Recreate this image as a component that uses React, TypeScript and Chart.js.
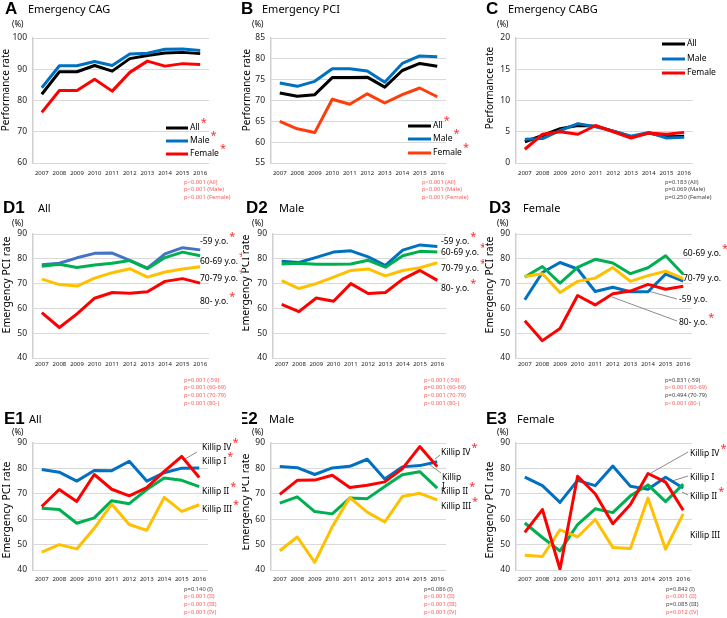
import React, { useEffect, useRef } from 'react';
import { Chart, registerables } from 'chart.js';
Chart.register(...registerables);

const FONT = '"Noto Sans", "DejaVu Sans", sans-serif';
const W = 727;
const H = 618;

const YEARS = ['2007', '2008', '2009', '2010', '2011', '2012', '2013', '2014', '2015', '2016'];

// Y tick labels
const ticksCAG = [60, 70, 80, 90, 100];
const ticksPCI = [55, 60, 65, 70, 75, 80, 85];
const ticksCABG = [0, 5, 10, 15, 20];
const ticksRate = [40, 50, 60, 70, 80, 90];

// A Emergency CAG
const cagAll = [82.0, 89.2, 89.2, 91.2, 89.4, 93.4, 94.4, 95.2, 95.4, 95.0];
const cagMale = [84.1, 91.1, 91.1, 92.5, 91.2, 94.9, 95.1, 96.4, 96.5, 96.0];
const cagFemale = [76.2, 83.2, 83.2, 86.8, 83.0, 89.0, 92.6, 91.0, 91.8, 91.5];
// B Emergency PCI
const pciAll = [71.8, 71.0, 71.4, 75.5, 75.5, 75.6, 73.2, 77.2, 78.9, 78.2];
const pciMale = [74.2, 73.4, 74.6, 77.6, 77.6, 77.1, 74.4, 78.9, 80.7, 80.5];
const pciFemale = [65.0, 63.2, 62.3, 70.3, 69.1, 71.6, 69.4, 71.4, 73.0, 70.9];
// C Emergency CABG
const cabgAll = [3.4, 4.4, 5.5, 6.0, 5.9, 5.1, 4.2, 4.8, 4.2, 4.3];
const cabgMale = [3.8, 3.9, 5.2, 6.3, 5.8, 5.1, 4.3, 4.9, 4.0, 4.1];
const cabgFemale = [2.2, 4.6, 5.0, 4.6, 6.0, 5.0, 4.0, 4.8, 4.6, 4.9];
// D1 All by age
const d1Age59 = [77.6, 78.2, 80.4, 82.2, 82.3, 79.4, 76.2, 82.0, 84.5, 83.6];
const d1Age60 = [77.0, 77.8, 76.5, 77.5, 78.2, 79.3, 76.0, 80.5, 82.7, 81.2];
const d1Age70 = [71.8, 69.6, 69.0, 72.2, 74.4, 76.0, 72.6, 74.7, 75.9, 76.8];
const d1Age80 = [58.3, 52.3, 57.8, 64.1, 66.4, 66.1, 66.7, 70.9, 72.0, 70.2];
// D2 Male by age
const d2Age59 = [79.0, 78.5, 80.6, 82.7, 83.2, 80.8, 77.3, 83.5, 85.6, 85.0];
const d2Age60 = [77.9, 78.2, 77.8, 77.8, 77.9, 79.4, 76.6, 81.2, 83.0, 82.7];
const d2Age70 = [71.2, 68.0, 70.0, 72.6, 75.3, 75.9, 73.1, 75.3, 76.4, 78.4];
const d2Age80 = [61.6, 58.7, 64.2, 62.9, 70.0, 66.0, 66.4, 71.8, 75.3, 71.3];
// D3 Female by age
const d3Age59 = [63.5, 74.5, 78.5, 75.9, 66.8, 68.5, 66.7, 66.7, 73.8, 71.0];
const d3Age60 = [72.6, 76.9, 70.2, 76.5, 79.8, 78.3, 74.0, 76.4, 81.2, 73.8];
const d3Age70 = [72.9, 74.0, 66.4, 70.9, 72.2, 76.5, 70.9, 73.2, 75.0, 72.0];
const d3Age80 = [55.0, 47.0, 51.9, 65.2, 61.4, 65.9, 67.0, 69.7, 67.7, 68.9];
// E1 All by Killip
const e1K1 = [79.6, 78.5, 75.0, 79.2, 79.1, 82.8, 75.0, 78.3, 80.1, 80.2];
const e1K2 = [64.3, 63.8, 58.4, 60.5, 67.3, 66.1, 71.7, 76.2, 75.3, 72.8];
const e1K3 = [47.0, 50.0, 48.3, 56.4, 65.9, 57.9, 55.6, 68.6, 63.1, 65.7];
const e1K4 = [65.0, 71.7, 67.0, 77.6, 71.8, 69.2, 72.4, 78.8, 84.7, 76.4];
// E2 Male by Killip
const e2K1 = [80.7, 80.3, 77.6, 80.2, 80.8, 83.6, 75.8, 80.6, 81.1, 82.6];
const e2K2 = [66.3, 68.8, 63.0, 62.1, 68.3, 68.1, 72.9, 77.5, 78.7, 72.2];
const e2K3 = [47.6, 53.0, 43.0, 57.0, 68.5, 62.8, 58.9, 68.9, 70.2, 67.6];
const e2K4 = [69.8, 75.3, 75.4, 77.3, 72.5, 73.4, 74.7, 79.8, 88.6, 80.7];
// E3 Female by Killip
const e3K1 = [76.6, 73.2, 66.6, 75.3, 73.2, 80.9, 73.0, 71.8, 76.5, 72.3];
const e3K2 = [58.5, 52.8, 47.5, 57.9, 64.1, 62.6, 69.2, 73.5, 66.9, 73.8];
const e3K3 = [45.8, 45.3, 55.8, 53.0, 59.9, 48.9, 48.5, 68.3, 48.2, 62.1];
const e3K4 = [54.8, 63.8, 40.3, 76.9, 70.0, 58.2, 65.8, 78.0, 74.6, 63.5];

const BLACK = '#000000';
const BLUE = '#0070C0';
const LBLUE = '#4472C4';
const RED = '#FF0000';
const ORANGE = '#FF3D0A';
const GREEN = '#00B050';
const GOLD = '#FFC000';
const PRED = '#FF5A5A';
const PGREY = '#444444';

interface Series { label: string; data: number[]; color: string }
interface TextItem { text: string; x: number; y: number; star?: boolean }
interface LegendDef { x1: number; x2: number; tx: number; items: { label: string; color: string; y: number; star: boolean }[] }
interface PanelDef {
  clip: [number, number];
  plot: [number, number, number, number];
  ticks: number[];
  xPad: number;
  series: Series[];
  letter: TextItem;
  title: TextItem;
  pct: TextItem;
  yTitle: TextItem;
  legend?: LegendDef;
  labels: TextItem[];
  leaders: number[][];
  pvals: { x: number; y: number; items: [string, boolean][] };
}

const COLS: [number, number][] = [[0, 242], [242, 484], [484, 727]];

const panels: PanelDef[] = [
  {
    clip: COLS[0], plot: [33, 38, 209, 163], ticks: ticksCAG, xPad: 7,
    series: [
      { label: 'All', data: cagAll, color: BLACK },
      { label: 'Male', data: cagMale, color: BLUE },
      { label: 'Female', data: cagFemale, color: RED },
    ],
    letter: { text: 'A', x: 5, y: 14 }, title: { text: 'Emergency CAG', x: 28, y: 13 },
    pct: { text: '(%)', x: 12, y: 25 }, yTitle: { text: 'Performance rate', x: 6, y: 90 },
    legend: {
      x1: 166, x2: 188, tx: 190, items: [
        { label: 'All', color: BLACK, y: 128, star: true },
        { label: 'Male', color: BLUE, y: 141, star: true },
        { label: 'Female', color: RED, y: 154, star: true },
      ],
    },
    labels: [], leaders: [],
    pvals: { x: 184, y: 182, items: [['p<0.001 (All)', true], ['p<0.001 (Male)', true], ['p<0.001 (Female)', true]] },
  },
  {
    clip: COLS[1], plot: [271, 38, 446, 163], ticks: ticksPCI, xPad: 7,
    series: [
      { label: 'All', data: pciAll, color: BLACK },
      { label: 'Male', data: pciMale, color: BLUE },
      { label: 'Female', data: pciFemale, color: ORANGE },
    ],
    letter: { text: 'B', x: 241, y: 14 }, title: { text: 'Emergency PCI', x: 262, y: 13 },
    pct: { text: '(%)', x: 252, y: 25 }, yTitle: { text: 'Performance rate', x: 247, y: 90 },
    legend: {
      x1: 408, x2: 431, tx: 433, items: [
        { label: 'All', color: BLACK, y: 126, star: true },
        { label: 'Male', color: BLUE, y: 139, star: true },
        { label: 'Female', color: ORANGE, y: 153, star: true },
      ],
    },
    labels: [], leaders: [],
    pvals: { x: 422, y: 182, items: [['p<0.001 (All)', true], ['p<0.001 (Male)', true], ['p<0.001 (Female)', true]] },
  },
  {
    clip: COLS[2], plot: [516, 38, 693, 163], ticks: ticksCABG, xPad: 7,
    series: [
      { label: 'All', data: cabgAll, color: BLACK },
      { label: 'Male', data: cabgMale, color: BLUE },
      { label: 'Female', data: cabgFemale, color: RED },
    ],
    letter: { text: 'C', x: 486, y: 14 }, title: { text: 'Emergency CABG', x: 508, y: 13 },
    pct: { text: '(%)', x: 497, y: 25 }, yTitle: { text: 'Performance rate', x: 490, y: 88 },
    legend: {
      x1: 662, x2: 685, tx: 687, items: [
        { label: 'All', color: BLACK, y: 44, star: false },
        { label: 'Male', color: BLUE, y: 59, star: false },
        { label: 'Female', color: RED, y: 73, star: false },
      ],
    },
    labels: [], leaders: [],
    pvals: { x: 665, y: 182, items: [['p=0.183 (All)', false], ['p=0.069 (Male)', false], ['p=0.250 (Female)', false]] },
  },
  {
    clip: COLS[0], plot: [33, 234, 209, 358], ticks: ticksRate, xPad: 3,
    series: [
      { label: '-59 y.o.', data: d1Age59, color: LBLUE },
      { label: '60-69 y.o.', data: d1Age60, color: GREEN },
      { label: '70-79 y.o.', data: d1Age70, color: GOLD },
      { label: '80- y.o.', data: d1Age80, color: RED },
    ],
    letter: { text: 'D1', x: 3, y: 213 }, title: { text: 'All', x: 38, y: 212 },
    pct: { text: '(%)', x: 12, y: 224 }, yTitle: { text: 'Emergency PCI rate', x: 7, y: 285 },
    labels: [
      { text: '-59 y.o.', x: 200, y: 242, star: true },
      { text: '60-69 y.o.', x: 200, y: 262, star: true },
      { text: '70-79 y.o.', x: 200, y: 279, star: true },
      { text: '80- y.o.', x: 200, y: 302, star: true },
    ],
    leaders: [],
    pvals: { x: 184, y: 380, items: [['p=0.001 (-59)', true], ['p<0.001 (60-69)', true], ['p<0.001 (70-79)', true], ['p<0.001 (80-)', true]] },
  },
  {
    clip: COLS[1], plot: [273, 234, 446, 358], ticks: ticksRate, xPad: 3,
    series: [
      { label: '-59 y.o.', data: d2Age59, color: BLUE },
      { label: '60-69 y.o.', data: d2Age60, color: GREEN },
      { label: '70-79 y.o.', data: d2Age70, color: GOLD },
      { label: '80- y.o.', data: d2Age80, color: RED },
    ],
    letter: { text: 'D2', x: 246, y: 213 }, title: { text: 'Male', x: 279, y: 212 },
    pct: { text: '(%)', x: 252, y: 224 }, yTitle: { text: 'Emergency PCI rate', x: 246, y: 283 },
    labels: [
      { text: '-59 y.o.', x: 441, y: 242, star: true },
      { text: '60-69 y.o.', x: 441, y: 253, star: true },
      { text: '70-79 y.o.', x: 441, y: 269, star: true },
      { text: '80- y.o.', x: 441, y: 289, star: true },
    ],
    leaders: [],
    pvals: { x: 424, y: 380, items: [['p<0.001 (-59)', true], ['p=0.001 (60-69)', true], ['p<0.001 (70-79)', true], ['p<0.001 (80-)', true]] },
  },
  {
    clip: COLS[2], plot: [516, 234, 692, 358], ticks: ticksRate, xPad: 3,
    series: [
      { label: '-59 y.o.', data: d3Age59, color: BLUE },
      { label: '60-69 y.o.', data: d3Age60, color: GREEN },
      { label: '70-79 y.o.', data: d3Age70, color: GOLD },
      { label: '80- y.o.', data: d3Age80, color: RED },
    ],
    letter: { text: 'D3', x: 489, y: 213 }, title: { text: 'Female', x: 523, y: 212 },
    pct: { text: '(%)', x: 497, y: 224 }, yTitle: { text: 'Emergency PCI rate', x: 490, y: 285 },
    labels: [
      { text: '60-69 y.o.', x: 683, y: 254, star: true },
      { text: '70-79 y.o.', x: 683, y: 279, star: false },
      { text: '-59 y.o.', x: 679, y: 300, star: false },
      { text: '80- y.o.', x: 679, y: 323, star: true },
    ],
    leaders: [[677, 299, 648, 291], [677, 321, 612, 297]],
    pvals: { x: 665, y: 380, items: [['p=0.831 (-59)', false], ['p<0.001 (60-69)', true], ['p=0.494 (70-79)', false], ['p<0.001 (80-)', true]] },
  },
  {
    clip: COLS[0], plot: [33, 443, 208, 570], ticks: ticksRate, xPad: 6,
    series: [
      { label: 'Killip I', data: e1K1, color: BLUE },
      { label: 'Killip II', data: e1K2, color: GREEN },
      { label: 'Killip III', data: e1K3, color: GOLD },
      { label: 'Killip IV', data: e1K4, color: RED },
    ],
    letter: { text: 'E1', x: 4, y: 424 }, title: { text: 'All', x: 29, y: 423 },
    pct: { text: '(%)', x: 12, y: 433 }, yTitle: { text: 'Emergency PCI rate', x: 7, y: 510 },
    labels: [
      { text: 'Killip IV', x: 202, y: 448, star: true },
      { text: 'Killip I', x: 202, y: 462, star: true },
      { text: 'Killip II', x: 202, y: 492, star: true },
      { text: 'Killip III', x: 202, y: 510, star: true },
    ],
    leaders: [[197, 452, 185, 459]],
    pvals: { x: 184, y: 589, items: [['p=0.140 (I)', false], ['p<0.001 (II)', true], ['p<0.001 (III)', true], ['p<0.001 (IV)', true]] },
  },
  {
    clip: COLS[1], plot: [271, 443, 446, 570], ticks: ticksRate, xPad: 6,
    series: [
      { label: 'Killip I', data: e2K1, color: BLUE },
      { label: 'Killip II', data: e2K2, color: GREEN },
      { label: 'Killip III', data: e2K3, color: GOLD },
      { label: 'Killip IV', data: e2K4, color: RED },
    ],
    letter: { text: 'E2', x: 237, y: 424 }, title: { text: 'Male', x: 269, y: 423 },
    pct: { text: '(%)', x: 252, y: 433 }, yTitle: { text: 'Emergency PCI rate', x: 246, y: 502 },
    labels: [
      { text: 'Killip IV', x: 441, y: 453, star: true },
      { text: 'Killip', x: 442, y: 478, star: false },
      { text: 'I', x: 442, y: 487, star: false },
      { text: 'Killip II', x: 441, y: 492, star: true },
      { text: 'Killip III', x: 441, y: 507, star: true },
    ],
    leaders: [[440, 455, 435, 459], [430, 465, 441, 473]],
    pvals: { x: 424, y: 589, items: [['p=0.086 (I)', false], ['p<0.001 (II)', true], ['p<0.001 (III)', true], ['p<0.001 (IV)', true]] },
  },
  {
    clip: COLS[2], plot: [516, 443, 692, 570], ticks: ticksRate, xPad: 6,
    series: [
      { label: 'Killip I', data: e3K1, color: BLUE },
      { label: 'Killip II', data: e3K2, color: GREEN },
      { label: 'Killip III', data: e3K3, color: GOLD },
      { label: 'Killip IV', data: e3K4, color: RED },
    ],
    letter: { text: 'E3', x: 486, y: 424 }, title: { text: 'Female', x: 517, y: 423 },
    pct: { text: '(%)', x: 497, y: 433 }, yTitle: { text: 'Emergency PCI rate', x: 490, y: 510 },
    labels: [
      { text: 'Killip IV', x: 690, y: 454, star: true },
      { text: 'Killip I', x: 690, y: 478, star: false },
      { text: 'Killip II', x: 690, y: 497, star: true },
      { text: 'Killip III', x: 690, y: 536, star: false },
    ],
    leaders: [[688, 452, 651, 473], [688, 476, 672, 481], [688, 495, 682, 492]],
    pvals: { x: 666, y: 589, items: [['p=0.842 (I)', false], ['p<0.001 (II)', true], ['p=0.085 (III)', false], ['p=0.012 (IV)', true]] },
  },
];

function drawStar(ctx: CanvasRenderingContext2D, x: number, y: number) {
  ctx.save();
  ctx.font = `11px ${FONT}`;
  ctx.fillStyle = '#FF3030';
  ctx.textAlign = 'left';
  ctx.textBaseline = 'middle';
  ctx.fillText('*', x, y);
  ctx.restore();
}

function drawAnnotations(ctx: CanvasRenderingContext2D, p: PanelDef) {
  ctx.save();
  ctx.beginPath();
  ctx.rect(p.clip[0], 0, p.clip[1] - p.clip[0], H);
  ctx.clip();
  ctx.fillStyle = '#000';
  ctx.textAlign = 'left';
  ctx.textBaseline = 'alphabetic';
  ctx.font = 'bold 17px "Liberation Sans", Arial, sans-serif';
  ctx.fillText(p.letter.text, p.letter.x, p.letter.y);
  ctx.font = `11px ${FONT}`;
  ctx.fillText(p.title.text, p.title.x, p.title.y);

  ctx.textBaseline = 'middle';
  ctx.font = `8px ${FONT}`;
  ctx.fillText(p.pct.text, p.pct.x, p.pct.y);

  ctx.save();
  ctx.translate(p.yTitle.x, p.yTitle.y);
  ctx.rotate(-Math.PI / 2);
  ctx.textAlign = 'center';
  ctx.font = `${p.yTitle.text.length > 16 ? 10.5 : 10}px ${FONT}`;
  ctx.fillText(p.yTitle.text, 0, 0);
  ctx.restore();

  if (p.legend) {
    const lg = p.legend;
    for (const it of lg.items) {
      ctx.strokeStyle = it.color;
      ctx.lineWidth = 3;
      ctx.beginPath();
      ctx.moveTo(lg.x1, it.y);
      ctx.lineTo(lg.x2, it.y);
      ctx.stroke();
      ctx.fillStyle = '#000';
      ctx.font = `8.5px ${FONT}`;
      ctx.fillText(it.label, lg.tx, it.y);
      if (it.star) drawStar(ctx, lg.tx + ctx.measureText(it.label).width + 1, it.y - 5);
    }
  }

  ctx.strokeStyle = '#595959';
  ctx.lineWidth = 0.7;
  for (const l of p.leaders) {
    ctx.beginPath();
    ctx.moveTo(l[0], l[1]);
    ctx.lineTo(l[2], l[3]);
    ctx.stroke();
  }

  for (const lb of p.labels) {
    ctx.fillStyle = '#000';
    ctx.font = `8.5px ${FONT}`;
    ctx.fillText(lb.text, lb.x, lb.y);
    if (lb.star) drawStar(ctx, lb.x + ctx.measureText(lb.text).width + 1, lb.y - 5);
  }

  ctx.font = `5.8px ${FONT}`;
  p.pvals.items.forEach(([t, red], i) => {
    ctx.fillStyle = red ? PRED : PGREY;
    ctx.fillText(t, p.pvals.x, p.pvals.y + i * 7.8);
  });
  ctx.restore();
}

const Y_W = 30;
const X_H = 20;

function Panel({ def }: { def: PanelDef }) {
  const ref = useRef<HTMLCanvasElement>(null);
  useEffect(() => {
    const [l, t, r, b] = def.plot;
    const n = def.series.length;
    const chart = new Chart(ref.current as HTMLCanvasElement, {
      type: 'line',
      data: {
        labels: YEARS,
        datasets: def.series.map((s, i) => ({
          label: s.label,
          data: s.data,
          borderColor: s.color,
          backgroundColor: s.color,
          borderWidth: 3,
          pointRadius: 0,
          tension: 0,
          fill: false,
          order: n - i,
          borderJoinStyle: 'round' as const,
        })),
      },
      options: {
        responsive: false,
        animation: false,
        events: [],
        layout: { padding: { left: l - Y_W, top: t, right: W - r, bottom: H - b - X_H } },
        plugins: { legend: { display: false }, tooltip: { enabled: false }, title: { display: false } },
        scales: {
          x: {
            offset: true,
            grid: { display: false, drawTicks: false },
            border: { display: false },
            ticks: { autoSkip: false, maxRotation: 0, minRotation: 0, padding: def.xPad, color: '#222', font: { size: 6, family: FONT } },
            afterFit: (s: any) => { s.height = X_H; },
          },
          y: {
            min: def.ticks[0],
            max: def.ticks[def.ticks.length - 1],
            grid: { color: '#d9d9d9', lineWidth: 1, drawTicks: false },
            border: { display: true, color: '#d0d0d0', width: 1.5 },
            ticks: { stepSize: def.ticks[1] - def.ticks[0], padding: 6, color: '#222', font: { size: 8.5, family: FONT } },
            afterFit: (s: any) => { s.width = Y_W; },
          },
        },
      },
      plugins: [{ id: 'annot', afterDraw: (c: any) => drawAnnotations(c.ctx, def) }],
    });
    return () => chart.destroy();
  }, [def]);
  return (
    <canvas
      ref={ref}
      width={W}
      height={H}
      style={{ position: 'absolute', left: 0, top: 0, width: W, height: H }}
    />
  );
}

export default function App() {
  return (
    <div style={{ position: 'absolute', left: 0, top: 0, width: W, height: H, background: '#fff', overflow: 'hidden' }}>
      {panels.map((p, i) => (
        <Panel key={i} def={p} />
      ))}
    </div>
  );
}
